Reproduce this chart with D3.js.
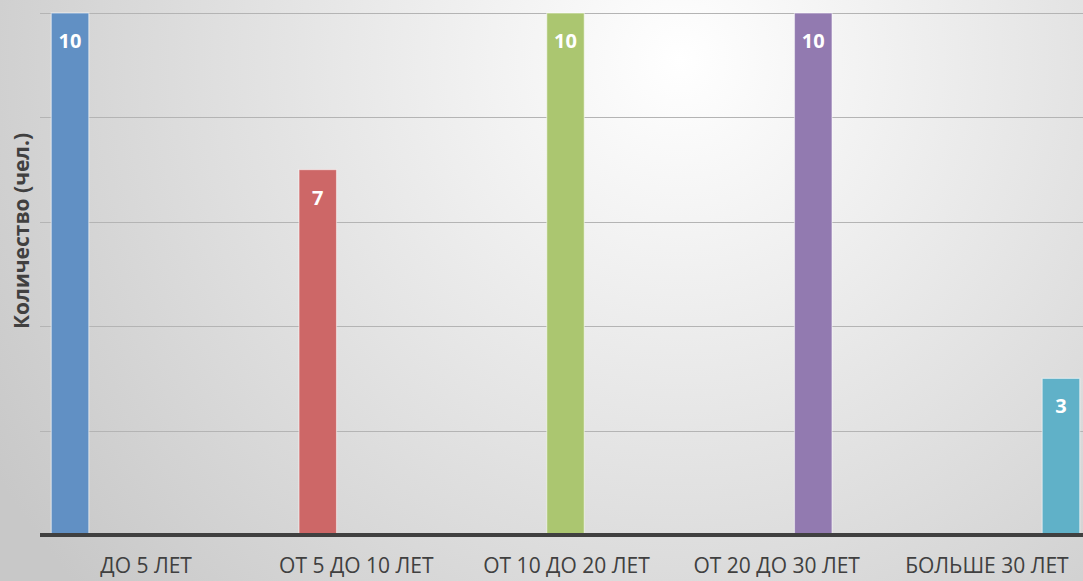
<!DOCTYPE html>
<html lang="ru">
<head>
    <meta charset="UTF-8">
    <title>Количество</title>
    <style>
        html, body { margin: 0; padding: 0; overflow: hidden; }
        svg { display: block; font-family: "Open Sans", "Noto Sans", sans-serif; }
    </style>
</head>
<body>
<div id="chart"></div>
<script src="https://cdn.jsdelivr.net/npm/d3@7"></script>
<script>
    const categories = ['ДО 5 ЛЕТ', 'ОТ 5 ДО 10 ЛЕТ', 'ОТ 10 ДО 20 ЛЕТ', 'ОТ 20 ДО 30 ЛЕТ', 'БОЛЬШЕ 30 ЛЕТ']
    const values = [10, 7, 10, 10, 3]
    const colors = ['#6190c4', '#cd6767', '#abc670', '#927ab0', '#60b1c8']
    const yTicks = [0, 2, 4, 6, 8, 10]

    const width = 1083, height = 581
    const m = {top: 13, right: -8, bottom: 46, left: 40}

    const svg = d3.select('#chart').append('svg')
        .attr('width', width)
        .attr('height', height)

    let defs = svg.append('defs')
    let grad = defs.append('radialGradient')
        .attr('id', 'bg')
        .attr('gradientUnits', 'userSpaceOnUse')
        .attr('cx', 680).attr('cy', 60).attr('r', 800)
    grad.append('stop').attr('offset', '0%').attr('stop-color', '#ffffff')
    grad.append('stop').attr('offset', '100%').attr('stop-color', '#c8c8c8')

    svg.append('rect')
        .attr('width', width).attr('height', height)
        .attr('fill', 'url(#bg)')

    let x0 = d3.scaleBand()
        .domain(categories)
        .range([m.left, width - m.right])
        .paddingInner(0)
        .paddingOuter(0)

    // each category holds a slot for every series (Excel clustered layout)
    let x1 = d3.scaleBand()
        .domain(d3.range(categories.length))
        .range([0, x0.bandwidth()])
        .paddingOuter(0.3)
        .paddingInner(0)

    let y = d3.scaleLinear()
        .domain([0, 10])
        .range([height - m.bottom, m.top])

    // gridlines
    svg.append('g')
        .selectAll('line')
        .data(yTicks.slice(1))
        .enter()
        .append('line')
        .attr('x1', m.left)
        .attr('x2', width)
        .attr('y1', d => Math.round(y(d)) + 0.5)
        .attr('y2', d => Math.round(y(d)) + 0.5)
        .attr('stroke', '#b4b4b4')
        .attr('stroke-width', 1)

    // bars
    let bars = svg.append('g')
        .selectAll('g')
        .data(values)
        .enter()
        .append('g')
        .attr('transform', (d, i) => `translate(${x0(categories[i]) + x1(i)},0)`)

    bars.append('rect')
        .attr('x', 0)
        .attr('y', d => y(d))
        .attr('width', x1.bandwidth())
        .attr('height', d => y(0) - y(d))
        .attr('fill', (d, i) => colors[i])
        .attr('stroke', 'rgba(255,255,255,0.5)')
        .attr('stroke-width', 1.2)

    bars.append('text')
        .attr('x', x1.bandwidth() / 2)
        .attr('y', d => y(d) + 35)
        .attr('text-anchor', 'middle')
        .style('font-size', '20px')
        .style('font-weight', 'bold')
        .style('fill', '#ffffff')
        .text(d => d)

    // baseline axis
    svg.append('line')
        .attr('x1', m.left)
        .attr('x2', width)
        .attr('y1', y(0))
        .attr('y2', y(0))
        .attr('stroke', '#404040')
        .attr('stroke-width', 4)

    // category labels
    svg.append('g')
        .selectAll('text')
        .data(categories)
        .enter()
        .append('text')
        .attr('x', d => x0(d) + x0.bandwidth() / 2 + 1)
        .attr('y', 573)
        .attr('text-anchor', 'middle')
        .style('font-size', '21px')
        .style('fill', '#404040')
        .text(d => d)

    // y axis title
    svg.append('text')
        .attr('transform', `translate(29, 231) rotate(-90)`)
        .attr('text-anchor', 'middle')
        .style('font-size', '21px')
        .style('font-weight', 'bold')
        .style('fill', '#404040')
        .text('Количество (чел.)')
</script>
</body>
</html>
